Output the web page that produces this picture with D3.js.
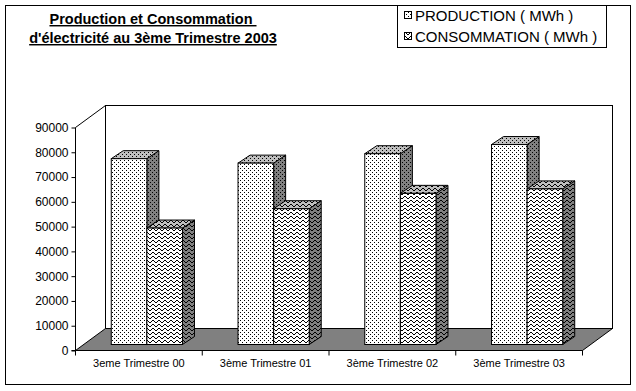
<!DOCTYPE html>
<html><head><meta charset="utf-8">
<script src="https://cdn.jsdelivr.net/npm/d3@7"></script>
<style>
body{margin:0;background:#fff;}
svg{display:block;font-family:"Liberation Sans",Arial,sans-serif;}
</style></head>
<body><svg id="c" width="636" height="391"></svg>
<script>
const categories = ["3eme Trimestre 00","3ème Trimestre 01","3ème Trimestre 02","3ème Trimestre 03"];
const production = [75000, 73200, 77000, 80700];
const consommation = [47000, 54800, 61000, 62800];
const seriesNames = ["PRODUCTION ( MWh )","CONSOMMATION ( MWh )"];
const yTicks = [0,10000,20000,30000,40000,50000,60000,70000,80000,90000];
const titleLines = ["Production et Consommation ","d'électricité au 3ème Trimestre 2003"];

const svg = d3.select("#c");
const defs = svg.append("defs");

function dotPattern(id, bg){
  const p = defs.append("pattern").attr("id",id).attr("patternUnits","userSpaceOnUse")
    .attr("width",4).attr("height",4);
  p.append("rect").attr("width",4).attr("height",4).attr("fill",bg);
  p.append("rect").attr("x",0).attr("y",0).attr("width",1).attr("height",1).attr("fill","#000");
  p.append("rect").attr("x",2).attr("y",2).attr("width",1).attr("height",1).attr("fill","#000");
}
function wavePattern(id, bg){
  const p = defs.append("pattern").attr("id",id).attr("patternUnits","userSpaceOnUse")
    .attr("width",6).attr("height",4);
  p.append("rect").attr("width",6).attr("height",4).attr("fill",bg);
  const ys=[2,1,0,0,1,2];
  ys.forEach((y,x)=>p.append("rect").attr("x",x).attr("y",y).attr("width",1).attr("height",1).attr("fill","#000"));
}
dotPattern("pFront","#fff"); dotPattern("pTop","#c0c0c0"); dotPattern("pSide","#808080");
wavePattern("cFront","#fff"); wavePattern("cTop","#c0c0c0"); wavePattern("cSide","#808080");
const fills = [["pFront","pTop","pSide"],["cFront","cTop","cSide"]];

// frame
svg.append("rect").attr("x",5.5).attr("y",5.5).attr("width",625).attr("height",379)
  .attr("fill","#fff").attr("stroke","#000");

// geometry
const x0=75, x1=582, yBase=350, yTop=127;
const D = [30,-22];          // full depth
const bf = [8,-6], bb=[20,-14]; // bar front/back depth offsets

const x = d3.scaleBand().domain(categories).range([x0,x1]).paddingInner(0).paddingOuter(0);
const xs = d3.scaleBand().domain(seriesNames).range([0,x.bandwidth()]).paddingInner(0).paddingOuter(0.78);
const y = d3.scaleLinear().domain([0,90000]).range([yBase,yTop]);

const g = svg.append("g");
// back wall
g.append("rect").attr("x",x0+D[0]+0.5).attr("y",y(90000)+D[1]+0.5)
  .attr("width",x1-x0).attr("height",yBase-y(90000))
  .attr("fill","#fff").attr("stroke","#000");
// side wall diagonal top
g.append("line").attr("x1",x0+0.5).attr("y1",y(90000)+0.5).attr("x2",x0+D[0]+0.5).attr("y2",y(90000)+D[1]+0.5)
  .attr("stroke","#000");
// floor
const fl = [[x0,yBase],[x1,yBase],[x1+D[0],yBase+D[1]],[x0+D[0],yBase+D[1]]];
g.append("polygon").attr("points",fl.map(p=>[p[0]+0.5,p[1]+0.5].join(",")).join(" "))
  .attr("fill","#808080").attr("stroke","#000");

// y axis
const yAxis = d3.axisLeft(y).tickValues(yTicks).tickSize(4).tickPadding(3).tickFormat(d3.format("d"));
const ya = g.append("g").attr("transform",`translate(${x0+0.5},0.5)`).call(yAxis);
ya.select(".domain").attr("d",`M-4,${y(0)}H0V${y(90000)}`);
ya.selectAll("text").attr("font-size",12).attr("font-family","Liberation Sans, Arial").attr("fill","#000");

// x axis
const xAxis = d3.axisBottom(x).tickSize(0).tickPadding(0);
const xa = g.append("g").attr("transform",`translate(0.5,${yBase+0.5})`).call(xAxis);
xa.select(".domain").attr("d",`M${x0},0H${x1}`);
xa.selectAll("text").attr("font-size",11).attr("font-family","Liberation Sans, Arial").attr("fill","#000").attr("dy",null).attr("y",16);
const bounds = categories.map(c=>x(c)).concat([x1]);
xa.selectAll(".sep").data(bounds).enter().append("line").attr("class","sep")
  .attr("x1",d=>d).attr("x2",d=>d).attr("y1",0).attr("y2",5).attr("stroke","#000");

// bars
const seriesVals = [production, consommation];
const bars = g.append("g");
categories.forEach((c,i)=>{
  seriesNames.forEach((s,j)=>{
    const v = seriesVals[j][i];
    const L = x(c)+xs(s)+bf[0], R = L+xs.bandwidth();
    const T = y(v)+bf[1], B = yBase+bf[1];
    const ddx = bb[0]-bf[0], ddy = bb[1]-bf[1];
    const pt = a=>a.map(p=>[p[0]+0.5,p[1]+0.5].join(",")).join(" ");
    bars.append("polygon").attr("points",pt([[R,T],[R+ddx,T+ddy],[R+ddx,B+ddy],[R,B]]))
      .attr("fill",`url(#${fills[j][2]})`).attr("stroke","#000");
    bars.append("polygon").attr("points",pt([[L,T],[L+ddx,T+ddy],[R+ddx,T+ddy],[R,T]]))
      .attr("fill",`url(#${fills[j][1]})`).attr("stroke","#000");
    bars.append("rect").attr("x",L+0.5).attr("y",T+0.5).attr("width",R-L).attr("height",B-T)
      .attr("fill",`url(#${fills[j][0]})`).attr("stroke","#000");
  });
});

// title
const tg = svg.append("g").attr("font-weight","bold").attr("font-size",14.5).attr("text-anchor","middle");
titleLines.forEach((t,i)=>{
  tg.append("text").attr("x",153).attr("y",24+i*19).style("white-space","pre")
    .style("text-decoration","underline").text(t);
});

// legend
const lg = svg.append("g");
lg.append("rect").attr("x",397.5).attr("y",5.5).attr("width",209).attr("height",42)
  .attr("fill","#fff").attr("stroke","#000");
seriesNames.forEach((s,j)=>{
  lg.append("rect").attr("x",404.5).attr("y",11.5+j*21).attr("width",7).attr("height",7)
    .attr("fill",`url(#${fills[j][0]})`).attr("stroke","#000");
  lg.append("text").attr("x",415).attr("y",20.5+j*21).attr("font-size",15).text(s);
});
</script></body></html>
